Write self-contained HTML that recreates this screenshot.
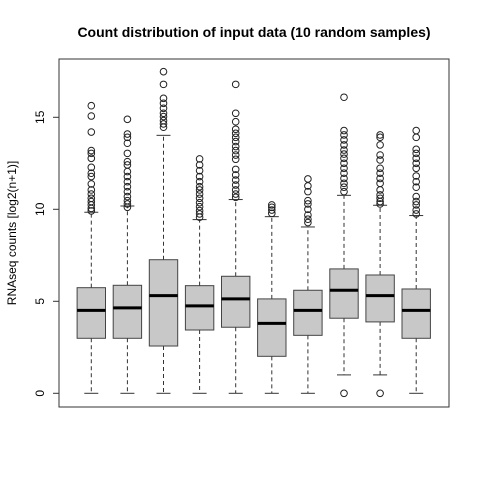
<!DOCTYPE html>
<html><head><meta charset="utf-8"><style>
body{margin:0;background:#fff}
svg text{font-family:"Liberation Sans",Arial,sans-serif}
</style></head><body>
<svg id="chart" width="480" height="480" viewBox="0 0 480 480">
<text x="254" y="37" text-anchor="middle" font-size="14" font-weight="bold">Count distribution of input data (10 random samples)</text>
<text transform="translate(16,233) rotate(-90)" text-anchor="middle" font-size="12">RNAseq counts [log2(n+1)]</text>
<rect x="59" y="59" width="390" height="348" fill="none" stroke="#333" stroke-width="1"/>
<g id="axis"></g><g id="boxes"></g>
</svg>
<script>
const q1 = [2.99,2.99,2.57,3.44,3.59,2.01,3.15,4.08,3.88,2.99];
const medians = [4.51,4.64,5.31,4.75,5.13,3.80,4.51,5.60,5.31,4.51];
const q3 = [5.74,5.87,7.26,5.85,6.36,5.13,5.60,6.76,6.43,5.67];
const whiskerLow = [0,0,0,0,0,0,0,1.0,1.0,0];
const whiskerHigh = [9.84,10.18,14.02,9.44,10.53,9.60,9.04,10.76,10.22,9.66];
const outliers = [
[15.63,15.07,14.2,13.19,13.04,12.77,12.28,11.96,11.78,11.38,11.05,10.83,10.6,10.42,10.24,10.05,9.91],
[14.89,14.09,13.91,13.59,13.04,12.59,12.41,12.05,11.78,11.5,11.23,10.96,10.69,10.47,10.29,10.11],
[17.48,16.79,16.03,15.76,15.49,15.22,15.04,14.82,14.64,14.46],
[12.74,12.41,12.1,11.78,11.5,11.23,11.05,10.83,10.6,10.36,10.14,9.93,9.75,9.57],
[16.79,15.22,14.76,14.35,14.13,13.91,13.68,13.41,13.19,12.95,12.72,12.17,11.87,11.59,11.32,11.05,10.83,10.65],
[10.24,10.11,9.96,9.78],
[11.65,11.27,10.96,10.47,10.29,10.0,9.69,9.46,9.28],
[16.09,14.28,14.04,13.77,13.5,13.22,13.0,12.77,12.5,12.23,11.96,11.68,11.41,11.2,10.96,0],
[14.04,13.91,13.5,12.95,12.68,12.23,11.96,11.68,11.41,11.05,10.78,10.6,10.42,10.29,0],
[14.28,13.91,13.26,13.04,12.77,12.5,12.23,11.81,11.5,11.2,10.69,10.42,10.24,9.96,9.75]
];
const yTicks = [0,5,10,15];
const xScale = i => 91.3 + i*36.1;
const yScale = v => 393.3 - v*18.4;
const NS='http://www.w3.org/2000/svg';
function mk(tag, attrs, parent){const e=document.createElementNS(NS,tag);for(const k in attrs)e.setAttribute(k,attrs[k]);parent.appendChild(e);return e;}
const ax=document.getElementById('axis');
let al=mk('line',{x1:59,x2:59,y1:yScale(0),y2:yScale(15),stroke:'#333'},ax);


yTicks.forEach(t=>{
 const y=yScale(t);
 const l=mk('line',{x1:53,x2:59,y1:y,y2:y,stroke:'#333'},ax);
 
 
 const tx=mk('text',{transform:`translate(44,${y}) rotate(-90)`,'text-anchor':'middle','font-size':'12'},ax);
 tx.textContent=t;
 
 
});
const bg=document.getElementById('boxes');
const hw=14.2, cap=7;
medians.forEach((m,i)=>{
 const cx=xScale(i);
 const g=mk('g',{},bg);
 
 
 mk('line',{x1:cx,x2:cx,y1:yScale(q3[i]),y2:yScale(whiskerHigh[i]),stroke:'#333','stroke-dasharray':'4,3'},g);
 mk('line',{x1:cx,x2:cx,y1:yScale(q1[i]),y2:yScale(whiskerLow[i]),stroke:'#333','stroke-dasharray':'4,3'},g);
 mk('line',{x1:cx-cap,x2:cx+cap,y1:yScale(whiskerHigh[i]),y2:yScale(whiskerHigh[i]),stroke:'#333'},g);
 mk('line',{x1:cx-cap,x2:cx+cap,y1:yScale(whiskerLow[i]),y2:yScale(whiskerLow[i]),stroke:'#333'},g);
 mk('rect',{x:cx-hw,y:yScale(q3[i]),width:2*hw,height:yScale(q1[i])-yScale(q3[i]),fill:'#c8c8c8',stroke:'#444'},g);
 mk('line',{x1:cx-hw,x2:cx+hw,y1:yScale(m),y2:yScale(m),stroke:'#000','stroke-width':3},g);
 outliers[i].forEach(v=>{
  const c=mk('circle',{cx:cx,cy:yScale(v),r:3.3,fill:'none',stroke:'#222','stroke-width':1},g);
  
  
 });
});
</script>
</body></html>
